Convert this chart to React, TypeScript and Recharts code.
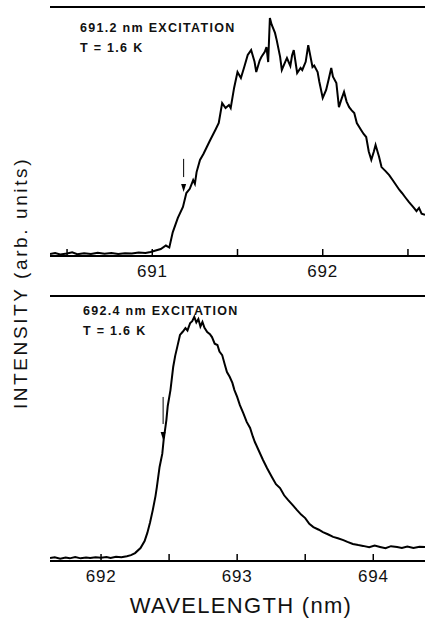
import React from 'react';
import { LineChart, Line, XAxis, YAxis, ReferenceLine, ReferenceDot } from 'recharts';

// Top panel: 691.2 nm excitation
const topWavelength = [690.40,690.43,690.46,690.50,690.53,690.56,690.60,690.64,690.68,690.72,690.76,690.80,690.84,690.88,690.92,690.96,690.99,691.02,691.05,691.08,691.10,691.12,691.15,691.18,691.20,691.22,691.24,691.25,691.26,691.28,691.30,691.32,691.34,691.37,691.39,691.41,691.43,691.45,691.46,691.48,691.50,691.52,691.54,691.56,691.58,691.60,691.61,691.63,691.64,691.66,691.67,691.68,691.69,691.70,691.72,691.73,691.75,691.76,691.78,691.79,691.81,691.82,691.83,691.85,691.87,691.88,691.90,691.915,691.94,691.95,691.97,691.98,692.00,692.02,692.035,692.05,692.06,692.08,692.095,692.11,692.125,692.14,692.155,692.17,692.185,692.20,692.225,692.24,692.255,692.27,692.285,692.30,692.31,692.33,692.345,692.37,692.39,692.41,692.43,692.45,692.465,692.485,692.505,692.52,692.535,692.55,692.565,692.58,692.60];
const topIntensity = [0.8,1.2,0.6,1.0,1.5,0.7,1.1,0.8,1.3,0.9,1.2,0.8,1.1,1.0,1.4,1.2,1.6,2.2,2.8,4.2,3.4,9.5,15.3,19.7,25.3,27.0,30.5,29.0,33.7,38.6,41.0,43.8,46.6,50.6,53.4,61.4,59.4,60.6,59.4,67.5,73.9,71.5,76.0,80.7,82.7,78.0,73.9,78.5,79.9,82.0,83.9,77.9,95.6,93.0,89.6,86.7,80.0,74.7,78.0,79.5,76.3,80.5,82.7,73.5,75.5,74.7,78.0,84.7,75.9,76.5,73.9,70.0,63.5,66.7,71.0,75.5,72.0,69.5,59.8,63.0,65.9,62.0,59.8,58.5,57.4,53.4,50.6,49.0,47.8,42.0,38.6,42.0,44.6,40.0,35.7,34.0,32.5,30.5,28.5,26.5,25.3,23.5,21.7,20.5,19.3,18.0,19.3,17.0,16.5];
const topTicks = [690.5, 691, 691.5, 692, 692.5];
const topDomain = [690.4, 692.6];
const topArrow = { x: 691.184, from: 39, to: 25.7 };

// Bottom panel: 692.4 nm excitation
const botWavelength = [691.625,691.66,691.70,691.74,691.77,691.81,691.85,691.89,691.92,691.96,692.00,692.04,692.07,692.11,692.15,692.19,692.22,692.25,692.29,692.32,692.34,692.36,692.38,692.40,692.41,692.43,692.45,692.46,692.48,692.49,692.51,692.53,692.545,692.56,692.58,692.60,692.62,692.635,692.655,692.67,692.685,692.70,692.715,692.73,692.745,692.76,692.78,692.80,692.815,692.835,692.855,692.87,692.89,692.91,692.925,692.945,692.965,692.98,693.00,693.02,693.045,693.07,693.095,693.115,693.13,693.16,693.19,693.22,693.255,693.285,693.315,693.345,693.375,693.41,693.44,693.47,693.50,693.53,693.56,693.60,693.63,693.67,693.705,693.74,693.78,693.81,693.85,693.89,693.925,693.97,694.01,694.05,694.09,694.13,694.175,694.21,694.25,694.295,694.34,694.38];
const botIntensity = [1.1,1.4,0.9,1.3,1.0,1.5,1.0,1.3,1.1,1.4,1.2,1.5,1.1,1.6,1.4,1.8,2.2,3.0,4.9,7.5,10.6,14.5,19.2,24.5,27.9,35.5,40.5,45.7,53.2,58.5,64.5,73.2,77.5,80.8,85.3,86.5,87.9,87.0,89.8,90.5,92.1,90.0,91.3,88.5,90.2,88.0,86.4,85.6,84.5,82.0,81.5,79.0,77.7,74.0,71.3,69.5,67.2,64.5,61.9,58.8,55.8,52.5,50.2,47.0,44.9,41.5,38.1,35.0,31.7,29.0,27.5,24.8,23.0,21.0,19.2,17.5,16.2,14.0,12.8,11.8,10.9,10.0,9.1,8.6,7.9,7.2,6.4,6.0,5.7,5.2,5.8,5.3,4.8,5.6,5.3,4.9,5.5,4.9,5.4,5.3];
const botTicks = [692, 692.5, 693, 693.5, 694];
const botDomain = [691.625, 694.38];
const botArrow = { x: 692.456, from: 61.9, to: 45.7 };

const topLabel = ['691.2 nm EXCITATION', 'T = 1.6 K'];
const botLabel = ['692.4 nm EXCITATION', 'T = 1.6 K'];
const xTitle = 'WAVELENGTH (nm)';
const yTitle = 'INTENSITY (arb. units)';

const topData = topWavelength.map((wl, i) => ({ wl, v: topIntensity[i] }));
const botData = botWavelength.map((wl, i) => ({ wl, v: botIntensity[i] }));

const FONT = '"Liberation Sans", Arial, sans-serif';

const Tick = (props: any) => {
  const { x, y, payload } = props;
  const major = Number.isInteger(payload.value);
  return (
    <g>
      <line x1={x} x2={x} y1={y} y2={y - 7} stroke="#000" strokeWidth={1.5} />
      {major && (
        <text x={x} y={y + 21} textAnchor="middle" fontFamily={FONT} fontSize={17} letterSpacing={0.8} fill="#111">
          {payload.value}
        </text>
      )}
    </g>
  );
};

const arrowHead = (props: any) => {
  const { cx, cy } = props;
  return <path d={`M${cx - 2.5},${cy - 8} L${cx + 2.5},${cy - 8} L${cx},${cy} Z`} fill="#000" />;
};

const Panel = ({ data, domain, ticks, arrow, height, top, bottom }: any) => (
  <LineChart width={425} height={height} data={data} margin={{ top, right: 0, bottom: 0, left: 50 }}>
    <XAxis
      dataKey="wl"
      type="number"
      domain={domain}
      ticks={ticks}
      allowDataOverflow
      height={bottom}
      tickSize={0}
      tickMargin={0}
      tickLine={false}
      interval={0}
      axisLine={{ stroke: '#000', strokeWidth: 2 }}
      tick={<Tick />}
    />
    <YAxis
      type="number"
      domain={[0, 100]}
      allowDataOverflow
      width={0}
      tick={false}
      tickLine={false}
      axisLine={{ stroke: '#000', strokeWidth: 2 }}
    />
    <ReferenceLine y={100} stroke="#000" strokeWidth={2} />
    <Line
      type="linear"
      dataKey="v"
      stroke="#000"
      strokeWidth={2}
      dot={false}
      isAnimationActive={false}
    />
    <ReferenceLine
      segment={[{ x: arrow.x, y: arrow.from }, { x: arrow.x, y: arrow.to + 6 }]}
      stroke="#000"
      strokeWidth={1}
    />
    <ReferenceDot x={arrow.x} y={arrow.to} r={2} shape={arrowHead} />
  </LineChart>
);

export default function App() {
  return (
    <div style={{ position: 'absolute', left: 0, top: 0, width: 425, height: 618, background: '#fff', overflow: 'hidden' }}>
      <div style={{ position: 'absolute', left: 0, top: 0 }}>
        <Panel data={topData} domain={topDomain} ticks={topTicks} arrow={topArrow} height={290} top={7} bottom={34} />
      </div>
      <div style={{ position: 'absolute', left: 0, top: 290 }}>
        <Panel data={botData} domain={botDomain} ticks={botTicks} arrow={botArrow} height={328} top={6} bottom={57} />
      </div>
      <svg width={425} height={618} style={{ position: 'absolute', left: 0, top: 0, pointerEvents: 'none' }}>
        <g fontFamily={FONT} fontWeight="bold" fontSize={12.5} fill="#111" letterSpacing={1.3}>
          <text x={80} y={32}>{topLabel[0]}</text>
          <text x={80} y={52}>{topLabel[1]}</text>
          <text x={83} y={315}>{botLabel[0]}</text>
          <text x={83} y={335}>{botLabel[1]}</text>
        </g>
        <text x={241} y={613} textAnchor="middle" fontFamily={FONT} fontSize={22} letterSpacing={1.3} fill="#111">
          {xTitle}
        </text>
        <text
          x={27}
          y={283}
          textAnchor="middle"
          transform="rotate(-90 27 283)"
          fontFamily={FONT}
          fontSize={19}
          letterSpacing={2.6}
          fill="#111"
        >
          {yTitle}
        </text>
      </svg>
    </div>
  );
}
